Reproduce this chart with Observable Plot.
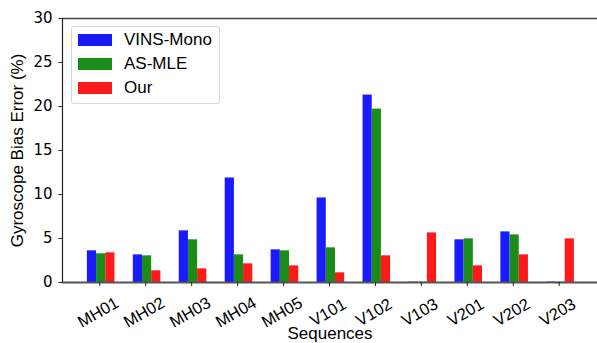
<!DOCTYPE html>
<html><head><meta charset="utf-8">
<script src="https://cdn.jsdelivr.net/npm/d3@7"></script>
<script src="https://cdn.jsdelivr.net/npm/@observablehq/plot@0.6"></script>
<style>
body{margin:0;background:#fff;}
#wrap{position:relative;width:597px;height:343px;overflow:hidden;}
.legend{position:absolute;left:71px;top:26px;width:147px;height:76px;border:1px solid #d6d6d6;border-radius:3px;background:rgba(255,255,255,0.8);font-family:"Liberation Sans",Arial,sans-serif;font-size:17px;color:#000;}
.row{position:absolute;left:6px;height:24px;display:flex;align-items:center;white-space:nowrap;}
.sw{width:34px;height:12px;margin-right:12px;}
</style></head>
<body><div id="wrap"></div>
<script>
const sequences = ["MH01","MH02","MH03","MH04","MH05","V101","V102","V103","V201","V202","V203"];
const vinsMono = [3.6, 3.14, 5.87, 11.88, 3.71, 9.61, 21.3, 0.05, 4.85, 5.75, 0.05];
const asMle    = [3.26, 3.03, 4.85, 3.14, 3.6, 3.94, 19.7, 0.03, 4.96, 5.41, 0.03];
const ours     = [3.37, 1.33, 1.55, 2.12, 1.89, 1.1, 3.03, 5.64, 1.89, 3.14, 4.96];
const seriesNames = ["VINS-Mono", "AS-MLE", "Our"];
const seriesColors = ["#1a1aff", "#1a8c1a", "#ff1a1a"];
const yTicks = [0, 5, 10, 15, 20, 25, 30];

const seriesValues = [vinsMono, asMle, ours];
const barW = 0.2, groupShift = 0.03;
const rows = [];
seriesValues.forEach((vals, s) => {
  vals.forEach((v, i) => {
    const x1 = i + groupShift + (s - 1.5) * barW;
    rows.push({seq: sequences[i], series: seriesNames[s], value: v, x1, x2: x1 + barW});
  });
});
const idx = sequences.map((d, i) => i);
const xDomain = [-0.811, 10.833];

const chart = Plot.plot({
  width: 597, height: 343,
  marginLeft: 62, marginRight: 0, marginTop: 18, marginBottom: 61,
  x: {type: "linear", domain: xDomain},
  y: {domain: [0, 30]},
  color: {domain: seriesNames, range: seriesColors},
  style: {fontFamily: "'Liberation Sans', Arial, sans-serif", fontSize: "17px", background: "white", color: "black"},
  marks: [
    Plot.rectY(rows, {x1: "x1", x2: "x2", y1: 0, y2: "value", fill: "series", inset: 0}),
    Plot.ruleY([0], {stroke: "#555", strokeWidth: 1.8}),
    Plot.ruleY([30], {stroke: "#444", strokeWidth: 1.4}),
    Plot.ruleX([xDomain[0]], {stroke: "#222", strokeWidth: 1.2}),
    Plot.axisY({ticks: yTicks, tickSize: 3.5, tickPadding: 6.5, label: null, fontFamily: "'DejaVu Sans', sans-serif", fontSize: 15, stroke: "#222"}),
    Plot.axisX({ticks: idx, tickSize: 4, tickFormat: () => "", label: null, stroke: "#222"}),
    Plot.text(sequences, {x: (d, i) => i, text: d => d, frameAnchor: "bottom", dy: 30, dx: -1.5, rotate: -30, textAnchor: "middle", lineAnchor: "middle", fontSize: 16.5}),
    Plot.text(["Gyroscope Bias Error (%)"], {text: d => d, frameAnchor: "left", dx: -45, rotate: -90, textAnchor: "middle", lineAnchor: "middle", fontSize: 17}),
    Plot.text(["Sequences"], {text: d => d, frameAnchor: "bottom", dy: 51, textAnchor: "middle", lineAnchor: "middle", fontSize: 17})
  ]
});

const wrap = document.getElementById("wrap");
wrap.appendChild(chart);
const legend = document.createElement("div");
legend.className = "legend";
seriesNames.forEach((name, s) => {
  const row = document.createElement("div");
  row.className = "row";
  row.style.top = (1 + s * 24) + "px";
  const sw = document.createElement("span");
  sw.className = "sw";
  sw.style.background = seriesColors[s];
  const label = document.createElement("span");
  label.textContent = name;
  row.appendChild(sw); row.appendChild(label);
  legend.appendChild(row);
});
wrap.appendChild(legend);
</script>
</body></html>
